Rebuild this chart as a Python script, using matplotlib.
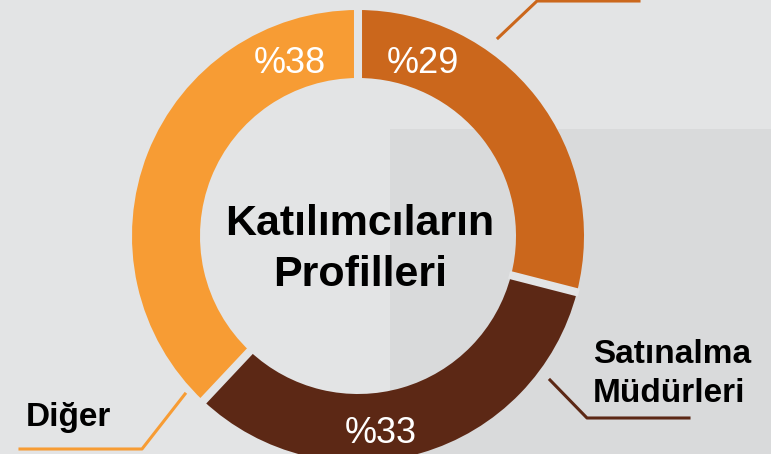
import numpy as np
import matplotlib.pyplot as plt
from matplotlib.patches import Rectangle

plt.rcParams['font.family'] = ['Liberation Sans', 'DejaVu Sans']

# data
categories = ["Diğer Katılımcılar", "Satınalma Müdürleri", "Diğer"]
shares = [29, 33, 38]
pct_labels = ["%29", "%33", "%38"]
title = ["Katılımcıların", "Profilleri"]

colors = ['#CB671C', '#5C2815', '#F79C34']
bg = '#E3E4E5'
panel = '#D9DADB'

W, H = 771, 454
fig = plt.figure(figsize=(W / 100, H / 100), dpi=100, facecolor=bg)
ax = fig.add_axes([0, 0, 1, 1])
ax.set_facecolor(bg)

cx, cy = 358, H - 236
r_out, ring = 226, 68

# darker panel behind the right half
ax.add_patch(Rectangle((390, 0), W - 390, H - 129, facecolor=panel, edgecolor='none', zorder=0))

ax.pie(shares, colors=colors, startangle=90, counterclock=False,
       radius=r_out, center=(cx, cy), frame=True,
       wedgeprops=dict(width=ring, linewidth=0))

# gaps between slices
bounds = 90 - 360 * np.concatenate([[0], np.cumsum(shares)[:-1]]) / sum(shares)
for a in bounds:
    t = np.deg2rad(a)
    r0, r1 = r_out - ring - 2, r_out + 2
    ax.plot([cx + r0 * np.cos(t), cx + r1 * np.cos(t)],
            [cy + r0 * np.sin(t), cy + r1 * np.sin(t)],
            color=bg, lw=5.8, solid_capstyle='butt', zorder=5)

# percentage labels
pct_pos = [(423, 73), (381, 443), (290, 73)]
for lab, (x, y) in zip(pct_labels, pct_pos):
    ax.text(x, H - y, lab, color='white', fontsize=26, ha='center', va='baseline', zorder=6)

# centre title
for line, yb in zip(title, [235, 286]):
    ax.text(360, H - yb, line, fontsize=31, fontweight='bold', color='black',
            ha='center', va='baseline', zorder=6)

# category labels
for line, yb in zip(["Satınalma", "Müdürleri"], [363, 402]):
    ax.text(593, H - yb, line, fontsize=24, fontweight='bold', color='black',
            ha='left', va='baseline', zorder=6)
ax.text(26, H - 426, categories[2], fontsize=24, fontweight='bold', color='black',
        ha='left', va='baseline', zorder=6)

# leader lines
ax.plot([498, 537, 639], [H - 38, H - 1, H - 1], color=colors[0], lw=2.2, zorder=4)
ax.plot([550, 587, 689], [H - 380, H - 418, H - 418], color=colors[1], lw=2.2, zorder=4)
ax.plot([185, 142, 20], [H - 394, H - 449, H - 449], color=colors[2], lw=2.2, zorder=4)

ax.set_xlim(0, W)
ax.set_ylim(0, H)
ax.set_aspect('auto')
ax.axis('off')

fig.savefig('out.png', dpi=100, facecolor=bg)
